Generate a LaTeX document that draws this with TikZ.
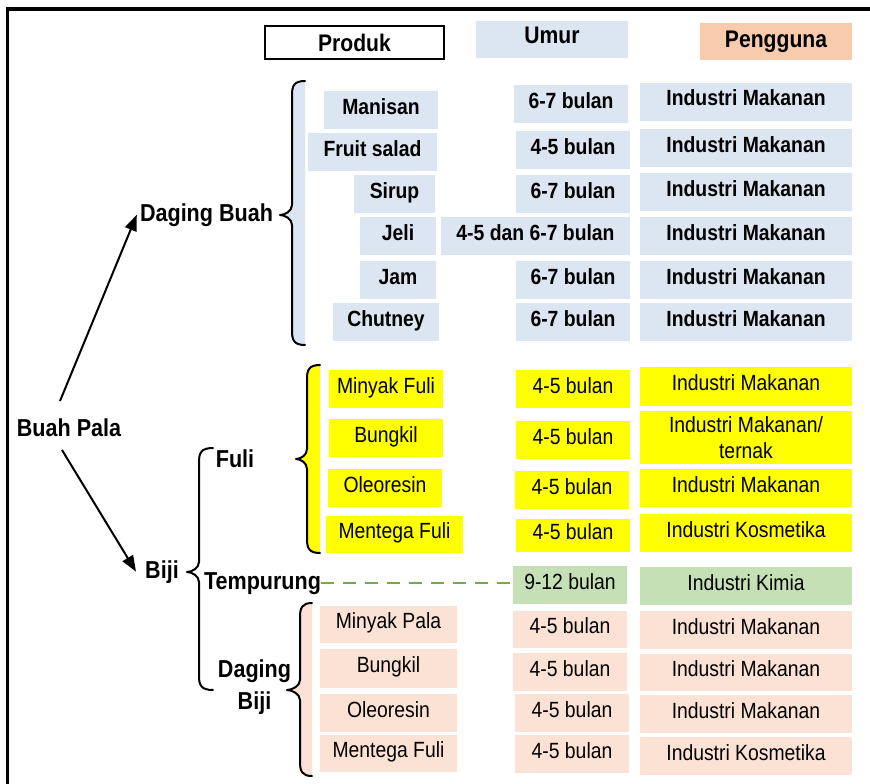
\documentclass[tikz,border=0pt]{standalone}
\usepackage{fontspec}
\setmainfont{Liberation Sans}[FakeStretch=0.88]
\usetikzlibrary{arrows.meta}
\definecolor{cblue}{HTML}{DCE6F2}
\definecolor{cyel}{HTML}{FFFF00}
\definecolor{cpeach}{HTML}{FBE2D5}
\definecolor{chead}{HTML}{F8CBAD}
\definecolor{cgreen}{HTML}{C5E0B4}
\definecolor{cdash}{HTML}{70AD47}
\newcommand\pbrace[7]{% #1 hook end x, #2 spine x, #3 tip x, #4 top y, #5 tip y, #6 bottom y, #7 fill
  \fill[#7] (#1,#4) .. controls (#2+2,#4) and (#2,#4+5) .. (#2,#4+14) -- (#2,#5-10)
    .. controls (#2,#5-4) and (#3+5,#5) .. (#3,#5) .. controls (#3+5,#5) and (#2,#5+4) .. (#2,#5+10)
    -- (#2,#6-14) .. controls (#2,#6-5) and (#2+2,#6) .. (#1,#6) -- cycle;
  \draw[brace] (#1,#4) .. controls (#2+2,#4) and (#2,#4+5) .. (#2,#4+14) -- (#2,#5-10)
    .. controls (#2,#5-4) and (#3+5,#5) .. (#3,#5) .. controls (#3+5,#5) and (#2,#5+4) .. (#2,#5+10)
    -- (#2,#6-14) .. controls (#2,#6-5) and (#2+2,#6) .. (#1,#6);
}
\begin{document}
\begin{tikzpicture}[x=1pt,y=-1pt,
  cell/.style={rectangle, inner sep=0pt, minimum height=38pt, font=\fontsize{22}{26}\selectfont},
  one/.style={text height=15pt, text depth=7pt},
  bl/.style={cell, one, fill=cblue, font=\fontsize{22}{26}\selectfont\bfseries},
  ye/.style={cell, one, fill=cyel},
  pe/.style={cell, one, fill=cpeach},
  gr/.style={cell, one, fill=cgreen},
  hd/.style={cell, minimum height=37pt, minimum width=152pt, font=\fontsize{24}{28}\selectfont\bfseries},
  lbl/.style={inner sep=0pt, anchor=base, font=\fontsize{24.5}{32}\selectfont\bfseries},
  brace/.style={line width=2pt, line join=round, line cap=round},
  arr/.style={line width=2pt, -{Triangle[length=16pt,width=12pt]}},
  dashln/.style={line width=2pt, cdash, dash pattern=on 13pt off 9pt},
]
\useasboundingbox (0,0) rectangle (870,784);
\fill[white] (0,0) rectangle (870,784);
% frame
\draw[line width=3.5pt] (7.5,800) -- (7.5,9) -- (880,9);

% braces
\pbrace{305}{292}{280}{81}{215}{345}{cblue}
\pbrace{320}{307}{296}{365}{459}{553}{cyel}
\pbrace{213}{199}{187}{448}{572}{690}{white}
\pbrace{312}{300}{287}{603}{690}{776}{cpeach}

% header
\node[hd, draw, line width=1.2pt, fill=white, minimum width=179pt, minimum height=33pt] (hprod) at (354.5,42.5) {Produk};
\node[hd, one, fill=cblue] (humur) at (552,39.5) {Umur};
\node[hd, fill=chead] (hpeng) at (776,41.5) {Pengguna};

% Daging Buah products
\node[bl, minimum width=114pt] (p1) at (381,110) {Manisan};
\node[bl, minimum width=129pt] (p2) at (372.5,152) {Fruit salad};
\node[bl, minimum width=81pt] (p3) at (394.5,194) {Sirup};
\node[bl, minimum width=76pt] (p4) at (398,236) {Jeli};
\node[bl, minimum width=76pt] (p5) at (398,280) {Jam};
\node[bl, minimum width=106pt] (p6) at (386,322) {Chutney};
\node[bl, minimum width=114pt] (u1) at (571,104) {6-7 bulan};
\node[bl, minimum width=114pt] (u2) at (573,150) {4-5 bulan};
\node[bl, minimum width=114pt] (u3) at (573,194) {6-7 bulan};
\node[bl, minimum width=189pt] (u4) at (535.5,236) {4-5 dan 6-7 bulan};
\node[bl, minimum width=114pt] (u5) at (573,280) {6-7 bulan};
\node[bl, minimum width=114pt] (u6) at (573,322) {6-7 bulan};
\node[bl, minimum width=212pt] (g1) at (746,102) {Industri Makanan};
\node[bl, minimum width=212pt] (g2) at (746,148) {Industri Makanan};
\node[bl, minimum width=212pt] (g3) at (746,192) {Industri Makanan};
\node[bl, minimum width=212pt] (g4) at (746,236) {Industri Makanan};
\node[bl, minimum width=212pt] (g5) at (746,280) {Industri Makanan};
\node[bl, minimum width=212pt] (g6) at (746,322) {Industri Makanan};

% Fuli
\node[ye, minimum width=114pt] (f1) at (386,389) {Minyak Fuli};
\node[ye, minimum width=114pt] (f2) at (386,438) {Bungkil};
\node[ye, minimum width=114pt] (f3) at (385,488) {Oleoresin};
\node[ye, minimum width=137pt, minimum height=37pt] (f4) at (394.5,534.5) {Mentega Fuli};
\node[ye, minimum width=114pt] (fu1) at (573,389) {4-5 bulan};
\node[ye, minimum width=114pt] (fu2) at (573,440) {4-5 bulan};
\node[ye, minimum width=114pt] (fu3) at (572,490) {4-5 bulan};
\node[ye, minimum width=114pt, minimum height=33pt] (fu4) at (573,535.5) {4-5 bulan};
\node[ye, minimum width=212pt, minimum height=39pt] (fg1) at (746,386.5) {Industri Makanan};
\node[cell, fill=cyel, minimum width=212pt, minimum height=53pt, align=center] (fg2) at (746,437.5) {Industri Makanan/\\ternak};
\node[ye, minimum width=212pt] (fg3) at (746,488) {Industri Makanan};
\node[ye, minimum width=212pt] (fg4) at (746,533) {Industri Kosmetika};

% Tempurung
\node[gr, minimum width=114pt] (tu) at (570,585) {9-12 bulan};
\node[gr, minimum width=212pt] (tg) at (746,586) {Industri Kimia};

% Daging Biji
\node[pe, minimum width=137pt, minimum height=37pt] (b1) at (388.5,624.5) {Minyak Pala};
\node[pe, minimum width=137pt, minimum height=39pt] (b2) at (388.5,668.5) {Bungkil};
\node[pe, minimum width=137pt] (b3) at (388.5,713) {Oleoresin};
\node[pe, minimum width=137pt, minimum height=37pt] (b4) at (388.5,753.5) {Mentega Fuli};
\node[pe, minimum width=114pt, minimum height=37pt] (bu1) at (570,629.5) {4-5 bulan};
\node[pe, minimum width=114pt] (bu2) at (570,672) {4-5 bulan};
\node[pe, minimum width=114pt] (bu3) at (572,713) {4-5 bulan};
\node[pe, minimum width=114pt] (bu4) at (572,754) {4-5 bulan};
\node[pe, minimum width=212pt] (bg1) at (746,630) {Industri Makanan};
\node[pe, minimum width=212pt, minimum height=37pt] (bg2) at (746,672.5) {Industri Makanan};
\node[pe, minimum width=212pt] (bg3) at (746,714) {Industri Makanan};
\node[pe, minimum width=212pt] (bg4) at (746,756) {Industri Kosmetika};

% labels
\node[lbl] (bp) at (69,436) {Buah Pala};
\node[lbl] (dbuah) at (206.5,221) {Daging Buah};
\node[lbl] (fuli) at (235,467) {Fuli};
\node[lbl] (biji) at (162,578) {Biji};
\node[lbl] (temp) at (262.5,589) {Tempurung};
\node[lbl, anchor=center, align=center] (dbiji) at (254.5,687.5) {Daging\\Biji};

% connectors
\coordinate (s1) at (60,401);
\coordinate (s2) at (62,450);
\draw[arr] (s1) -- ([xshift=-3pt]dbuah.west);
\draw[arr] (s2) -- ([xshift=-9pt]biji.west);
\draw[dashln] (temp.east) -- (temp.east -| tu.west);
\end{tikzpicture}
\end{document}
